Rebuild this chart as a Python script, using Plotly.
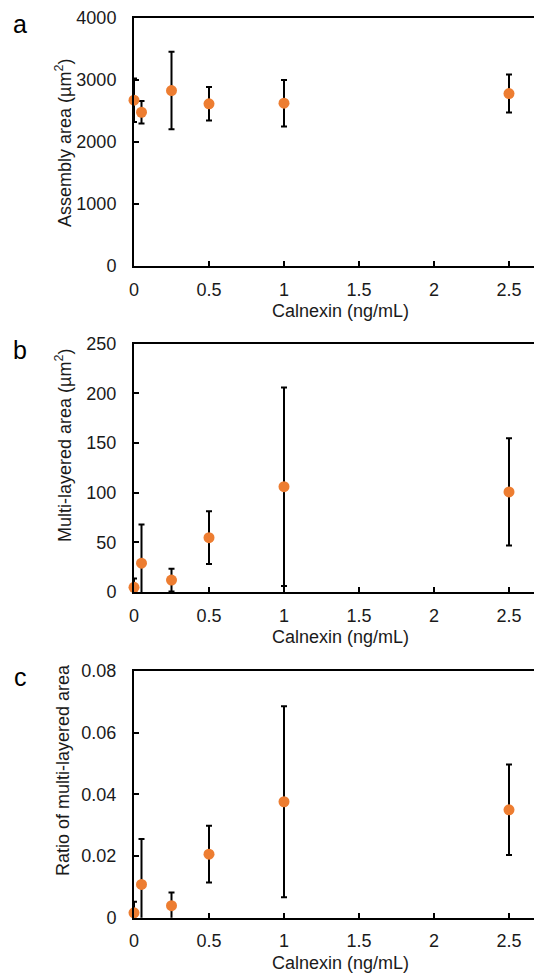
import plotly.graph_objects as go

conc = [0, 0.05, 0.25, 0.5, 1, 2.5]

assembly_area = [2674, 2480, 2830, 2616, 2626, 2782]
assembly_err = [350, 180, 625, 270, 375, 307]

multi_area = [4.7, 29, 12, 54.7, 106, 100.8]
multi_err = [9, 39, 11.5, 26.5, 100, 54]

ratio = [0.0016, 0.0108, 0.0039, 0.0206, 0.0376, 0.0350]
ratio_err = [0.0036, 0.0147, 0.0043, 0.0092, 0.031, 0.0147]

x_ticks = [0, 0.5, 1, 1.5, 2, 2.5]
x_ticklabels = ["0", "0.5", "1", "1.5", "2", "2.5"]

panels = [
    dict(y=assembly_area, e=assembly_err, yt=[0, 1000, 2000, 3000, 4000],
         ytl=["0", "1000", "2000", "3000", "4000"], yr=[0, 4000],
         top=18, bot=266, label="a", ytitle="Assembly area (µm<sup>2</sup>)", ytc=143),
    dict(y=multi_area, e=multi_err, yt=[0, 50, 100, 150, 200, 250],
         ytl=["0", "50", "100", "150", "200", "250"], yr=[0, 250],
         top=343.7, bot=592, label="b", ytitle="Multi-layered area (µm<sup>2</sup>)", ytc=446),
    dict(y=ratio, e=ratio_err, yt=[0, 0.02, 0.04, 0.06, 0.08],
         ytl=["0", "0.02", "0.04", "0.06", "0.08"], yr=[0, 0.08],
         top=671, bot=917.7, label="c", ytitle="Ratio of multi-layered area", ytc=770),
]

W, H = 534, 976
x_left = 134
FONT = "Liberation Sans, Arial, sans-serif"
TXT = "#1a1a1a"

fig = go.Figure()
layout = dict(
    width=W, height=H, margin=dict(l=0, r=0, t=0, b=0, pad=0, autoexpand=False),
    paper_bgcolor="white", plot_bgcolor="white", showlegend=False,
    font=dict(family=FONT, size=18, color=TXT),
)
annotations = []
for i, p in enumerate(panels):
    n = "" if i == 0 else str(i + 1)
    xa = "x" + n
    ya = "y" + n
    fig.add_trace(go.Scatter(
        x=conc, y=p["y"], mode="markers", xaxis=xa, yaxis=ya,
        marker=dict(color="#ED7D31", size=11),
        error_y=dict(type="data", array=p["e"], visible=True,
                     color="black", thickness=2, width=3),
        cliponaxis=False,
    ))
    layout["xaxis" + n] = dict(
        domain=[x_left / W, 1], anchor=ya, range=[0, 8 / 3],
        tickvals=x_ticks, ticktext=x_ticklabels, automargin=False,
        showline=True, linecolor="black", linewidth=2, mirror=True,
        ticks="inside", ticklen=5, tickwidth=2, tickcolor="black",
        ticklabelstandoff=6,
        showgrid=False, zeroline=False,
        tickfont=dict(size=18, family=FONT, color=TXT),
    )
    layout["yaxis" + n] = dict(
        domain=[1 - p["bot"] / H, 1 - p["top"] / H], anchor=xa, range=p["yr"],
        tickvals=p["yt"], ticktext=p["ytl"], automargin=False,
        showline=True, linecolor="black", linewidth=2,
        ticks="inside", ticklen=5, tickwidth=2, tickcolor="black",
        ticklabelstandoff=12,
        showgrid=False, zeroline=False,
        tickfont=dict(size=18, family=FONT, color=TXT),
    )
    annotations.append(dict(
        text=p["label"], x=20 / W, y=1 - (p["top"] + 6) / H, xref="paper", yref="paper",
        showarrow=False, font=dict(size=25, family=FONT, color="black"),
        xanchor="center", yanchor="middle"))
    annotations.append(dict(
        text=p["ytitle"], x=63 / W, y=1 - p["ytc"] / H, xref="paper", yref="paper",
        showarrow=False, textangle=-90, font=dict(size=18, family=FONT, color=TXT),
        xanchor="center", yanchor="middle"))
    annotations.append(dict(
        text="Calnexin (ng/mL)", x=340 / W, y=1 - (p["bot"] + 45) / H, xref="paper", yref="paper",
        showarrow=False, font=dict(size=18, family=FONT, color=TXT),
        xanchor="center", yanchor="middle"))

layout["annotations"] = annotations
fig.update_layout(**layout)
fig.write_html(
    "out.html",
    config={"displayModeBar": False},
    post_script="document.body.style.margin='0';document.body.style.overflow='hidden';",
)
